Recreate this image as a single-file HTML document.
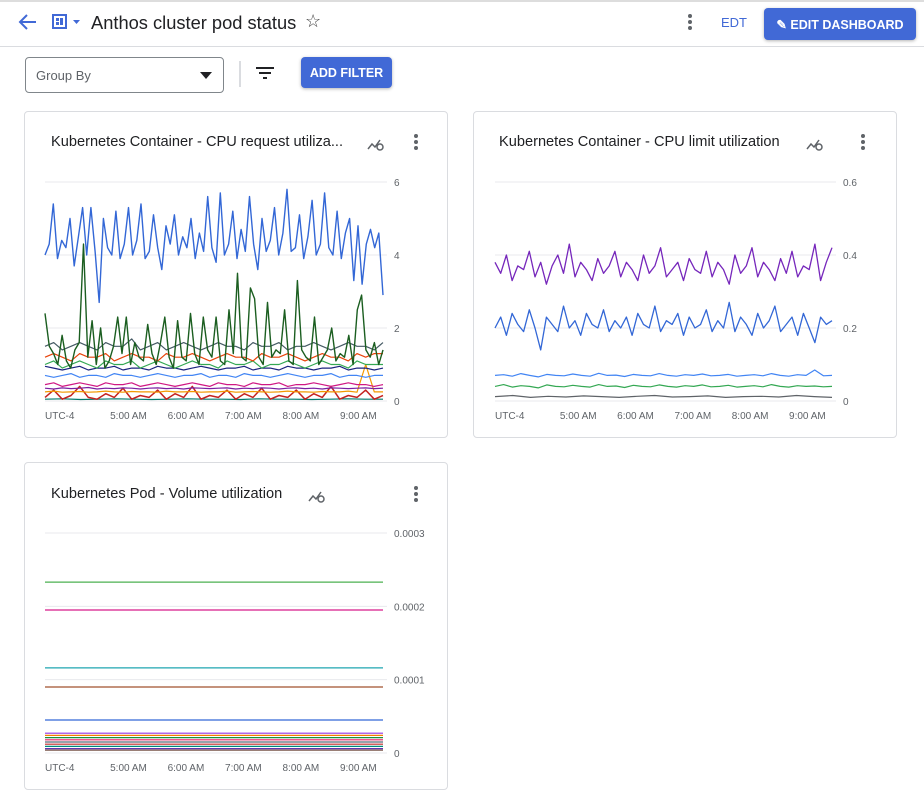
<!DOCTYPE html>
<html><head><meta charset="utf-8"><style>
body{margin:0;width:924px;height:803px;background:#fff;font-family:"Liberation Sans",sans-serif;position:relative;overflow:hidden;color:#202124}
.abs{position:absolute}
.card{position:absolute;border:1px solid #dadce0;border-radius:4px;background:#fff}
.ctitle{position:absolute;font-size:15px;color:#202124;white-space:nowrap}
.btn{position:absolute;background:#4169d6;color:#fff;border-radius:4px;font-size:12.5px;font-weight:bold;display:flex;align-items:center;justify-content:center;box-shadow:0 1px 3px rgba(0,0,0,.3)}
.kebab{position:absolute;width:4px}
.kebab i{display:block;width:4px;height:4px;border-radius:2px;background:#5f6368;margin-bottom:2px}
</style></head><body>
<div class="abs" style="left:0;top:0;width:924px;height:2px;background:#ddd"></div>
<svg class="abs" style="left:16px;top:12px" width="22" height="20"><path d="M20 10H4M11 3L4 10l7 7" stroke="#4169d6" stroke-width="2" fill="none"/></svg>
<svg class="abs" style="left:52px;top:14px" width="32" height="16"><rect x="1" y="1" width="13" height="13" fill="none" stroke="#4169d6" stroke-width="2"/><rect x="4" y="4" width="3" height="3" fill="#4169d6"/><rect x="4" y="8" width="3" height="3" fill="#4169d6"/><rect x="8" y="4" width="3" height="7" fill="#4169d6"/><path d="M21 6h7l-3.5 4z" fill="#4169d6"/></svg>
<div class="abs" style="left:91px;top:12px;font-size:18.3px">Anthos cluster pod status</div>
<div class="abs" style="left:305px;top:11px;font-size:18px;color:#444">☆</div>
<div class="kebab" style="left:688px;top:14px"><i></i><i></i><i></i></div>
<div class="abs" style="left:721px;top:15px;font-size:13px;color:#4169d6">EDT</div>
<div class="btn" style="left:764px;top:8px;width:152px;height:32px">✎&nbsp;EDIT DASHBOARD</div>
<div class="abs" style="left:0;top:46px;width:924px;height:1px;background:#dadce0"></div>
<div class="abs" style="left:25px;top:57px;width:197px;height:34px;border:1px solid #80868b;border-radius:4px"><span style="position:absolute;left:10px;top:10px;font-size:13px;color:#5f6368">Group By</span><svg style="position:absolute;left:174px;top:14px" width="12" height="7"><path d="M0 0h12L6 7z" fill="#202124"/></svg></div>
<div class="abs" style="left:239px;top:61px;width:2px;height:26px;background:#dadce0"></div>
<svg class="abs" style="left:256px;top:67px" width="18" height="12"><path d="M0 1h18M3 6h12M7 11h4" stroke="#202124" stroke-width="2"/></svg>
<div class="btn" style="left:301px;top:57px;width:91px;height:31px">ADD FILTER</div>

<div class="card" style="left:24px;top:111px;width:422px;height:325px"></div>
<div class="card" style="left:473px;top:111px;width:422px;height:325px"></div>
<div class="card" style="left:24px;top:462px;width:422px;height:326px"></div>
<div class="ctitle" style="left:51px;top:134px;font-size:14.6px">Kubernetes Container - CPU request utiliza...</div>
<div class="ctitle" style="left:499px;top:134px;font-size:14.6px">Kubernetes Container - CPU limit utilization</div>
<div class="ctitle" style="left:51px;top:486px;font-size:14.6px">Kubernetes Pod - Volume utilization</div>
<div class="kebab" style="left:414px;top:134px"><i></i><i></i><i></i></div>
<div class="kebab" style="left:861px;top:134px"><i></i><i></i><i></i></div>
<div class="kebab" style="left:414px;top:486px"><i></i><i></i><i></i></div>
<svg id="charts" class="abs" style="left:0;top:0" width="924" height="803"></svg>
<script>
// ---- data ----
const timeLabels=["UTC-4","5:00 AM","6:00 AM","7:00 AM","8:00 AM","9:00 AM"];
const timeLabelPos=[0,0.24,0.41,0.58,0.75,0.92];
const reqTicks=[0,2,4,6];
const limTicks=[0,0.2,0.4,0.6];
const volTicks=[0,0.0001,0.0002,0.0003];
const volTickLabels=["0","0.0001","0.0002","0.0003"];
const reqBlue=[4.0,4.3,5.4,3.9,4.4,4.2,5.0,3.7,4.5,5.3,4.0,5.3,4.1,2.7,5.0,4.2,4.0,5.2,3.9,4.3,5.3,4.0,4.4,5.4,3.9,4.1,5.1,4.2,3.6,4.8,4.3,5.1,4.0,4.5,4.2,5.0,3.9,4.6,4.1,5.6,4.2,3.8,5.7,4.0,4.3,5.2,3.9,4.7,4.1,5.6,4.3,3.6,5.0,4.1,4.4,5.3,4.0,4.6,5.8,4.1,4.2,5.1,3.9,4.5,5.5,4.0,4.3,5.7,4.2,4.0,5.2,3.9,4.6,5.0,3.3,4.8,3.2,4.3,4.7,4.2,4.6,2.9];
const reqGreenSpiky=[2.4,1.5,1.3,1.0,1.8,1.1,0.9,1.4,1.6,4.3,1.2,2.2,1.0,2.0,0.9,1.1,1.5,2.3,1.3,2.3,1.0,1.6,1.2,1.1,2.1,1.3,1.0,1.6,2.3,1.2,0.9,2.2,1.2,1.1,2.4,1.3,1.0,2.3,1.4,1.2,2.3,1.1,1.0,2.5,1.3,3.5,1.2,1.1,3.1,2.8,1.2,1.0,2.7,1.2,1.4,1.3,2.5,1.1,1.0,3.3,1.4,1.2,1.1,2.3,1.0,1.2,1.4,2.0,1.1,1.3,1.2,1.8,1.0,2.5,2.9,1.4,1.2,1.6,1.0,1.4];
const reqGray=[1.5,1.6,1.4,1.5,1.6,1.5,1.4,1.6,1.5,1.5,1.7,1.4,1.5,1.6,1.4,1.5,1.6,1.5,1.4,1.5,1.6,1.5,1.5,1.4,1.6,1.5,1.5,1.6,1.4,1.5,1.5,1.6,1.5,1.4,1.5,1.6,1.5,1.5,1.4,1.6];
const reqOrange=[1.2,1.3,1.2,1.1,1.3,1.2,1.2,1.3,1.1,1.2,1.3,1.2,1.2,1.1,1.3,1.2,1.2,1.3,1.2,1.1,1.2,1.3,1.2,1.2,1.1,1.3,1.2,1.2,1.3,1.2,1.1,1.2,1.3,1.2,1.2,1.1,1.3,1.2,1.3,1.3];
const reqGreen=[1.0,1.1,0.9,1.0,1.1,1.0,0.9,1.1,1.0,1.0,1.1,0.9,1.0,1.1,1.0,0.9,1.0,1.1,1.0,1.0,0.9,1.1,1.0,1.0,1.1,0.9,1.0,1.0,1.1,1.0,0.9,1.0,1.1,1.0,1.0,0.9,1.1,1.0,1.0,1.0];
const reqNavy=[0.95,0.9,0.85,0.9,0.95,0.85,0.9,0.9,0.95,0.85,0.9,0.9,0.85,0.95,0.9,0.9,0.85,0.9,0.95,0.9,0.85,0.9,0.9,0.95,0.85,0.9,0.9,0.85,0.95,0.9,0.9,0.85,0.9,0.9,0.95,0.85,0.9,0.9,0.85,0.9];
const reqLightBlue=[0.7,0.65,0.7,0.75,0.65,0.7,0.7,0.65,0.75,0.7,0.7,0.65,0.7,0.75,0.7,0.65,0.7,0.7,0.75,0.65,0.7,0.7,0.65,0.75,0.7,0.7,0.65,0.7,0.75,0.7,0.65,0.7,0.7,0.75,0.65,0.7,0.7,0.65,0.7,0.7];
const reqMagenta=[0.45,0.5,0.4,0.45,0.5,0.45,0.4,0.5,0.45,0.45,0.5,0.4,0.45,0.5,0.45,0.4,0.45,0.5,0.45,0.4,0.5,0.45,0.45,0.4,0.5,0.45,0.45,0.5,0.4,0.45,0.45,0.5,0.45,0.4,0.45,0.5,0.45,0.45,0.4,0.45];
const reqPurple=[0.35,0.33,0.36,0.34,0.35,0.37,0.33,0.35,0.34,0.36,0.35,0.33,0.35,0.36,0.34,0.35,0.33,0.36,0.35,0.34,0.35,0.36,0.33,0.35,0.34,0.36,0.35,0.33,0.35,0.36,0.34,0.35,0.33,0.36,0.35,0.34,0.35,0.36,0.34,0.35];
const reqOrange2=[0.25,0.27,0.24,0.25,0.26,0.24,0.25,0.27,0.25,0.24,0.26,0.25,0.25,0.24,0.27,0.25,0.25,0.26,0.24,0.25,0.25,0.27,0.24,0.25,0.26,0.25,0.24,0.25,0.27,0.25,0.25,0.24,0.26,0.25,0.25,0.27,0.24,1.0,0.25,0.25];
const reqRed=[0.1,0.3,0.05,0.15,0.4,0.1,0.05,0.2,0.1,0.35,0.05,0.15,0.1,0.3,0.05,0.2,0.1,0.4,0.05,0.15,0.1,0.3,0.05,0.2,0.1,0.35,0.05,0.15,0.1,0.3,0.05,0.2,0.1,0.4,0.05,0.15,0.1,0.3,0.05,0.15];
const reqTeal=[0.05,0.06,0.04,0.05,0.06,0.05,0.04,0.05,0.06,0.05,0.05,0.04,0.06,0.05,0.05,0.04,0.05,0.06,0.05,0.05];
const limPurple=[0.38,0.35,0.40,0.33,0.37,0.36,0.41,0.34,0.38,0.32,0.37,0.40,0.35,0.43,0.34,0.38,0.36,0.33,0.39,0.35,0.37,0.41,0.34,0.38,0.36,0.33,0.40,0.35,0.37,0.42,0.34,0.36,0.38,0.33,0.39,0.36,0.35,0.41,0.34,0.38,0.36,0.32,0.40,0.35,0.37,0.42,0.34,0.38,0.36,0.33,0.39,0.35,0.41,0.34,0.37,0.36,0.43,0.33,0.38,0.42];
const limBlue=[0.20,0.23,0.18,0.24,0.21,0.19,0.25,0.20,0.14,0.23,0.21,0.19,0.26,0.20,0.22,0.18,0.24,0.21,0.20,0.25,0.19,0.22,0.20,0.23,0.18,0.24,0.21,0.20,0.26,0.19,0.22,0.21,0.24,0.18,0.23,0.20,0.21,0.25,0.19,0.22,0.20,0.27,0.19,0.23,0.21,0.18,0.24,0.20,0.22,0.26,0.19,0.21,0.23,0.18,0.24,0.20,0.16,0.23,0.21,0.22];
const limLightBlue=[0.07,0.072,0.068,0.075,0.07,0.066,0.073,0.07,0.069,0.074,0.07,0.068,0.076,0.07,0.071,0.067,0.073,0.07,0.069,0.075,0.07,0.068,0.072,0.07,0.074,0.069,0.07,0.073,0.068,0.07,0.072,0.069,0.075,0.07,0.068,0.072,0.07,0.085,0.069,0.07];
const limGreen=[0.04,0.045,0.038,0.042,0.04,0.036,0.044,0.04,0.039,0.043,0.04,0.038,0.045,0.04,0.041,0.037,0.043,0.04,0.039,0.044,0.04,0.038,0.042,0.04,0.044,0.039,0.04,0.043,0.038,0.04,0.042,0.039,0.045,0.04,0.038,0.042,0.04,0.041,0.039,0.04];
const limLow=[0.012,0.015,0.01,0.013,0.011,0.014,0.012,0.01,0.013,0.015,0.011,0.012,0.014,0.01,0.012,0.013,0.011,0.015,0.012,0.01];
const volValues=[0.000233,0.000195,0.000116,0.00009,0.000045,0.000027,0.000024,0.000021,0.000018,0.000015,0.000012,0.000009,0.000006,0.000004];
const volColors=["#4cb050","#d81b8a","#1fa5b0","#a0522d","#3367d6","#9334e6","#f57c00","#1e8e3e","#e91e63","#546e7a","#c62828","#00897b","#5e35b1","#795548"];

const NS="http://www.w3.org/2000/svg";
const svg=document.getElementById('charts');
function mk(tag,attrs){const e=document.createElementNS(NS,tag);for(const k in attrs)e.setAttribute(k,attrs[k]);svg.appendChild(e);return e;}
function makeAxes(x0,x1,yTop,yBot,vmax){
  return {x:f=>x0+f*(x1-x0),y:v=>yBot-v/vmax*(yBot-yTop),x0,x1};
}
function grid(ax,ticks,labels,labelX,prefix){
  ticks.forEach((t,i)=>{
    const l=mk('line',{x1:ax.x0,x2:ax.x1+4,y1:ax.y(t),y2:ax.y(t),stroke:'#e8eaed','stroke-width':1});
    
    
    const tx=mk('text',{x:labelX,y:ax.y(t)+4,'font-size':10,fill:'#5f6368','font-family':'Liberation Sans, sans-serif'});
    tx.textContent=labels[i];
    
    
  });
  timeLabels.forEach((s,i)=>{
    const tx=mk('text',{x:ax.x(timeLabelPos[i])+(i===0?0:-16),y:419,'font-size':10,fill:'#5f6368','font-family':'Liberation Sans, sans-serif'});
    if(prefix==='vol')tx.setAttribute('y',771);
    tx.textContent=s;
    
    
  });
}
function series(ax,vals,color,name,w){
  const n=vals.length;
  const pts=vals.map((v,i)=>ax.x(i/(n-1)).toFixed(1)+','+ax.y(v).toFixed(1)).join(' ');
  const p=mk('polyline',{points:pts,fill:'none',stroke:color,'stroke-width':w||1.2,'stroke-linejoin':'round'});
  
  
}
// chart 1
const a1=makeAxes(45,383,182,401,6);
grid(a1,reqTicks,reqTicks.map(String),394,'req');
series(a1,reqTeal,'#00796b','req-teal');
series(a1,reqRed,'#c5221f','req-red',1.5);
series(a1,reqOrange2,'#f29900','req-orange2');
series(a1,reqPurple,'#7b1fa2','req-purple');
series(a1,reqMagenta,'#d01884','req-magenta');
series(a1,reqLightBlue,'#4285f4','req-lightblue');
series(a1,reqNavy,'#1a237e','req-navy');
series(a1,reqGreen,'#34a853','req-green');
series(a1,reqOrange,'#e8430a','req-orange');
series(a1,reqGray,'#455a64','req-gray');
series(a1,reqGreenSpiky,'#1b5e20','req-green-spiky',1.4);
series(a1,reqBlue,'#3367d6','req-blue',1.4);
// chart 2
const a2=makeAxes(495,832,182,401,0.6);
grid(a2,limTicks,["0","0.2","0.4","0.6"],843,'lim');
series(a2,limLow,'#5f6368','lim-low');
series(a2,limGreen,'#34a853','lim-green');
series(a2,limLightBlue,'#4285f4','lim-lightblue');
series(a2,limBlue,'#3367d6','lim-blue',1.3);
series(a2,limPurple,'#7627bb','lim-purple',1.3);
// chart 3
const a3=makeAxes(45,383,533,753,0.0003);
grid(a3,volTicks,volTickLabels,394,'vol');
volValues.forEach((v,i)=>series(a3,[v,v],volColors[i],'vol-series-'+i,1.2));
// explore icons
[[368,139],[807,139],[309,491]].forEach(([x,y],i)=>{
  const p=mk('path',{d:`M${x} ${y+10}l4-5 3 3 5-7`,stroke:'#5f6368','stroke-width':1.5,fill:'none'});
  
  
  const c=mk('circle',{cx:x+12,cy:y+8,r:3,stroke:'#5f6368','stroke-width':1.5,fill:'none'});
  
  
});
</script>
</body></html>
